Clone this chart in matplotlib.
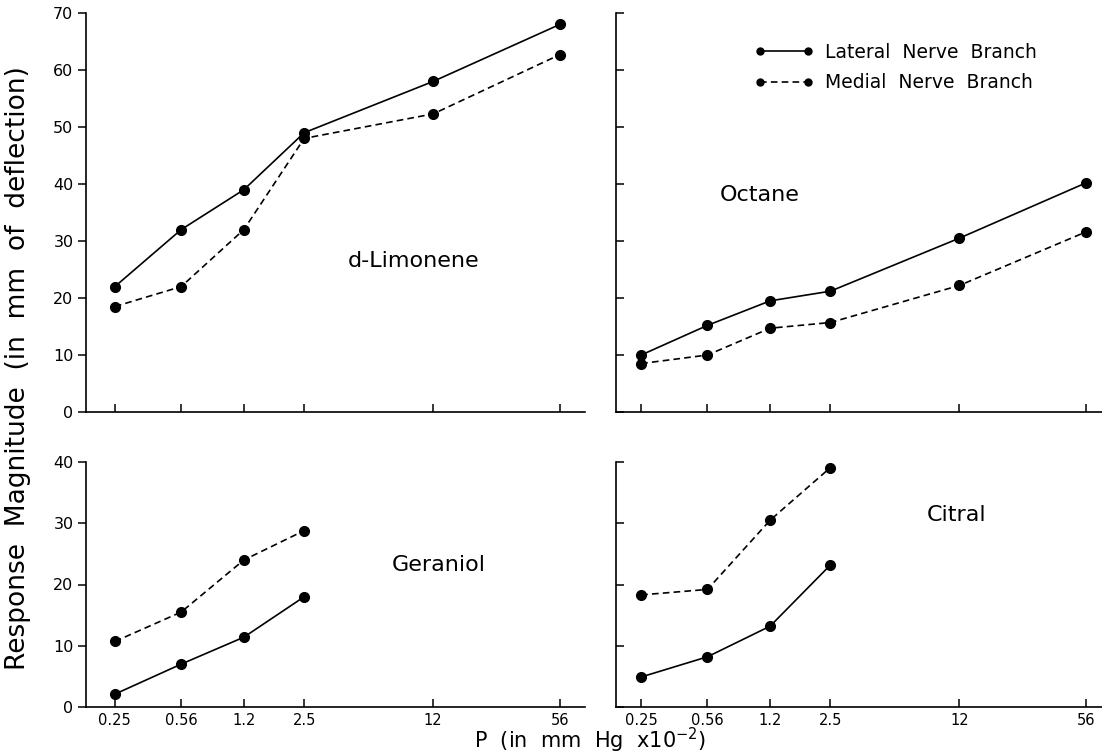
import numpy as np
import matplotlib
matplotlib.use("Agg")
import matplotlib.pyplot as plt
from matplotlib.lines import Line2D

plt.rcParams['font.family'] = ['DejaVu Sans']

# pressure levels (mm Hg x 10^-2)
pressure = [0.25, 0.56, 1.2, 2.5, 12, 56]
pressure_labels = ["0.25", "0.56", "1.2", "2.5", "12", "56"]

# d-Limonene
limonene_lateral = [22, 32, 39, 49, 58, 68]
limonene_medial = [18.5, 22, 32, 48, 52.3, 62.7]
# Octane
octane_lateral = [10, 15.2, 19.5, 21.2, 30.5, 40.2]
octane_medial = [8.5, 10, 14.7, 15.7, 22.2, 31.6]
# Geraniol (only first four pressures)
geraniol_lateral = [2.1, 7.0, 11.4, 18.0]
geraniol_medial = [10.7, 15.5, 24, 28.8]
# Citral
citral_lateral = [4.9, 8.2, 13.2, 23.2]
citral_medial = [18.3, 19.2, 30.5, 39.1]

W, H = 1102, 755
fig = plt.figure(figsize=(W / 100, H / 100), dpi=100)


def px_axes(x0, x1, ytop, ybot):
    return fig.add_axes([x0 / W, 1 - ybot / H, (x1 - x0) / W, (ybot - ytop) / H])


ax_lim = px_axes(86, 585, 13, 412)
ax_oct = px_axes(616, 1102, 13, 412)
ax_ger = px_axes(86, 585, 462, 707)
ax_cit = px_axes(616, 1102, 462, 707)

lw = 1.2
ms = 7
dash = (0, (4, 2.5))


def draw(ax, lateral, medial):
    n = len(lateral)
    ax.plot(pressure[:n], lateral, color='black', lw=lw, marker='o', ms=ms)
    ax.plot(pressure[:n], medial, color='black', lw=lw, ls=dash, marker='o', ms=ms)


draw(ax_lim, limonene_lateral, limonene_medial)
draw(ax_oct, octane_lateral, octane_medial)
draw(ax_ger, geraniol_lateral, geraniol_medial)
draw(ax_cit, citral_lateral, citral_medial)

for ax, left in [(ax_lim, True), (ax_oct, False), (ax_ger, True), (ax_cit, False)]:
    ax.set_xscale('log')
    ax.minorticks_off()
    ax.set_xticks(pressure)
    ax.spines['top'].set_visible(False)
    ax.spines['right'].set_visible(False)
    for s in ['left', 'bottom']:
        ax.spines[s].set_linewidth(1.2)
    ax.tick_params(axis='x', direction='in', length=6, width=1.1, labelsize=10.5, pad=4)
    ax.tick_params(axis='y', direction='out' if left else 'in', length=6, width=1.1,
                   labelsize=11.5, pad=3)
    if left:
        ax.set_xlim(0.176, 76)
    else:
        ax.set_xlim(0.184, 68)

for ax in (ax_lim, ax_oct):
    ax.set_ylim(0, 70)
    ax.set_yticks(np.arange(0, 71, 10))
    ax.set_xticklabels([])
for ax in (ax_ger, ax_cit):
    ax.set_ylim(0, 40)
    ax.set_yticks(np.arange(0, 41, 10))
    ax.set_xticklabels(pressure_labels)
for ax in (ax_oct, ax_cit):
    ax.set_yticklabels([])

ax_lim.text(9.5, 26.5, "d-Limonene", fontsize=16, ha='center', va='center')
ax_oct.text(1.06, 38, "Octane", fontsize=16, ha='center', va='center')
ax_ger.text(12.8, 23.2, "Geraniol", fontsize=16, ha='center', va='center')
ax_cit.text(11.6, 31.3, "Citral", fontsize=16, ha='center', va='center')

handles = [
    Line2D([], [], color='black', lw=lw, marker='o', ms=5),
    Line2D([], [], color='black', lw=lw, ls=dash, marker='o', ms=5),
]
fig.legend(handles, ["Lateral  Nerve  Branch", "Medial  Nerve  Branch"],
           loc='upper left', bbox_to_anchor=(754 / W, 1 - 43 / H), frameon=False,
           numpoints=2, fontsize=13.5, handlelength=3.2, handletextpad=0.6,
           labelspacing=0.6, borderpad=0, borderaxespad=0)

fig.text(18 / W, 1 - 368 / H, "Response  Magnitude  (in  mm  of  deflection)",
         rotation=90, fontsize=19, ha='center', va='center')
fig.text(590 / W, 1 - 740 / H, r"P  (in  mm  Hg  x10$^{-2}$)",
         fontsize=15, ha='center', va='center')

fig.savefig("out.png", dpi=100)
